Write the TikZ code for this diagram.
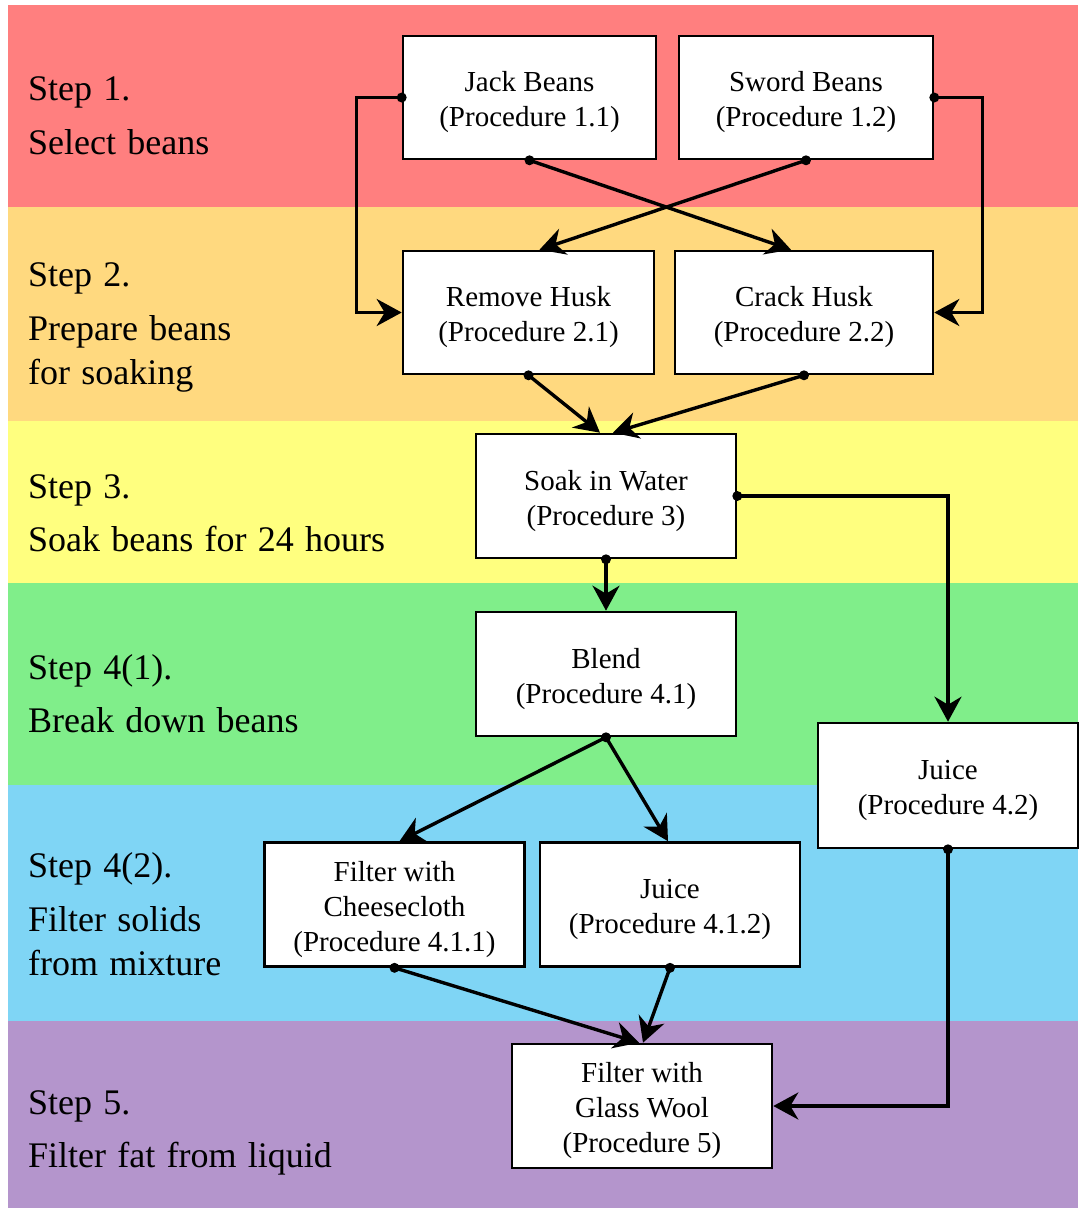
\documentclass[tikz,border=0pt]{standalone}
\usepackage{fontspec}
\setmainfont{Liberation Serif}
\newfontfamily\steplabelfont[WordSpace=1.25]{Liberation Serif}
\usetikzlibrary{arrows.meta,calc}
\definecolor{bandred}{RGB}{255,127,127}
\definecolor{bandorange}{RGB}{255,217,127}
\definecolor{bandyellow}{RGB}{255,255,127}
\definecolor{bandgreen}{RGB}{128,238,138}
\definecolor{bandblue}{RGB}{127,213,245}
\definecolor{bandpurple}{RGB}{180,149,204}
\begin{document}
\begin{tikzpicture}[x=1pt,y=-1pt,
  box/.style={draw=black,fill=white,line width=2.6pt,inner sep=0pt},
  boxtext/.style={inner sep=0pt,align=center,yshift=-5pt,
    font=\fontsize{29}{35}\selectfont},
  steplabel/.style={anchor=base west,inner sep=0pt,
    font=\steplabelfont\fontsize{36}{44}\selectfont},
  conn/.style={line width=3.4pt,-{Stealth[length=25pt,width=27pt,inset=8pt]}},
  dot/.style={fill=black}
]
\useasboundingbox (0,0) rectangle (1079,1210);
\fill[white] (0,0) rectangle (1079,1210);
% bands
\fill[bandred] (8,5) rectangle (1078,207);
\fill[bandorange] (8,207) rectangle (1078,421);
\fill[bandyellow] (8,421) rectangle (1078,583);
\fill[bandgreen] (8,583) rectangle (1078,785);
\fill[bandblue] (8,785) rectangle (1078,1021);
\fill[bandpurple] (8,1021) rectangle (1078,1208);
% step labels
\node[steplabel] (s1) at (28,100) {Step 1.};
\node[steplabel] (d1) at (28,154) {Select beans};
\node[steplabel] (s2) at (28,286) {Step 2.};
\node[steplabel] (d2a) at (28,340) {Prepare beans};
\node[steplabel] (d2b) at (28,384) {for soaking};
\node[steplabel] (s3) at (28,498) {Step 3.};
\node[steplabel] (d3) at (28,551) {Soak beans for 24 hours};
\node[steplabel] (s41) at (28,679) {Step 4(1).};
\node[steplabel] (d41) at (28,732) {Break down beans};
\node[steplabel] (s42) at (28,877) {Step 4(2).};
\node[steplabel] (d42a) at (28,931) {Filter solids};
\node[steplabel] (d42b) at (28,975) {from mixture};
\node[steplabel] (s5) at (28,1114) {Step 5.};
\node[steplabel] (d5) at (28,1167) {Filter fat from liquid};
% boxes
\node[box,minimum width=253pt,minimum height=123pt] (jack) at (529.5,97.5) {};
\node[boxtext] (jackt) at (jack.center) {Jack Beans\\(Procedure 1.1)};
\node[box,minimum width=254pt,minimum height=123pt] (sword) at (806,97.5) {};
\node[boxtext] (swordt) at (sword.center) {Sword Beans\\(Procedure 1.2)};
\node[box,minimum width=251pt,minimum height=123pt] (rh) at (528.5,312.5) {};
\node[boxtext] (rht) at (rh.center) {Remove Husk\\(Procedure 2.1)};
\node[box,minimum width=258pt,minimum height=123pt] (ch) at (804,312.5) {};
\node[boxtext] (cht) at (ch.center) {Crack Husk\\(Procedure 2.2)};
\node[box,minimum width=260pt,minimum height=124pt] (soak) at (606,496) {};
\node[boxtext] (soakt) at (soak.center) {Soak in Water\\(Procedure 3)};
\node[box,minimum width=260pt,minimum height=124pt] (blend) at (606,674) {};
\node[boxtext] (blendt) at (blend.center) {Blend\\(Procedure 4.1)};
\node[box,minimum width=260pt,minimum height=125pt] (j42) at (948,785.5) {};
\node[boxtext] (j42t) at (j42.center) {Juice\\(Procedure 4.2)};
\node[box,minimum width=260pt,minimum height=124pt] (cc) at (394.5,904.5) {};
\node[boxtext] (cct) at (cc.center) {Filter with\\Cheesecloth\\(Procedure 4.1.1)};
\node[box,minimum width=260pt,minimum height=124pt] (j41) at (670,904.5) {};
\node[boxtext] (j41t) at (j41.center) {Juice\\(Procedure 4.1.2)};
\node[box,minimum width=260pt,minimum height=124pt] (gw) at (642,1106) {};
\node[boxtext] (gwt) at (gw.center) {Filter with\\Glass Wool\\(Procedure 5)};
% connectors
\draw[conn] (jack.west) -- ++(-45,0) |- (rh.west);
\draw[conn] (sword.east) -- ++(48,0) |- (ch.east);
\draw[conn] (jack.south) -- ($(ch.north)+(-13,0)$);
\draw[conn] (sword.south) -- ($(rh.north)+(11,0)$);
\draw[conn] (rh.south) -- ($(soak.north)+(-6,0)$);
\draw[conn] (ch.south) -- ($(soak.north)+(7,0)$);
\draw[conn] (soak.east) -| (j42.north);
\draw[conn] (soak.south) -- (blend.north);
\draw[conn] (blend.south) -- ($(cc.north)+(5,0)$);
\draw[conn] (blend.south) -- ($(j41.north)+(-2,0)$);
\draw[conn] (cc.south) -- ($(gw.north)+(-3,0)$);
\draw[conn] (j41.south) -- ($(gw.north)+(1,0)$);
\draw[conn] (j42.south) |- (gw.east);
% start dots
\foreach \p in {jack.west,sword.east,jack.south,sword.south,rh.south,ch.south,soak.east,soak.south,blend.south,j42.south,cc.south,j41.south}
  \fill[dot] (\p) circle[radius=5pt];
\end{tikzpicture}
\end{document}
